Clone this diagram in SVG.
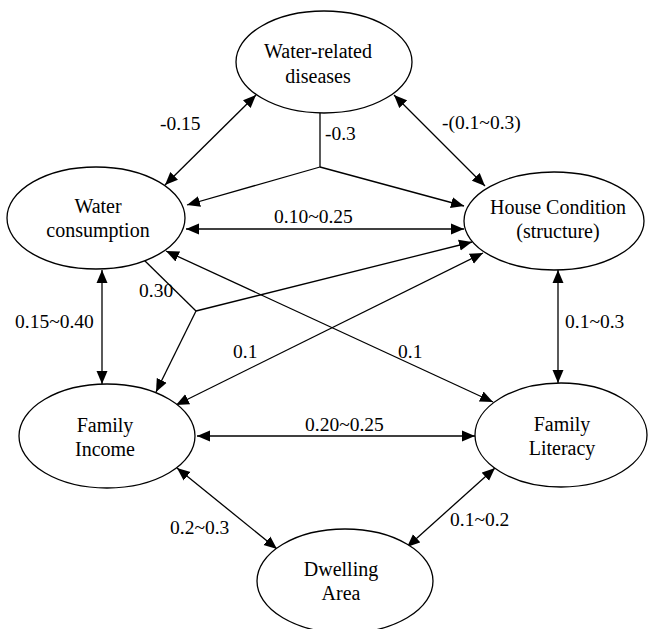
<svg xmlns="http://www.w3.org/2000/svg" width="650" height="629" viewBox="0 0 650 629">
<style>
.node ellipse{fill:#fff;stroke:#000;stroke-width:1.3}
text{font-family:'Liberation Serif','Times New Roman',serif;fill:#000}
.node text{font-size:20px;text-anchor:middle}
.lbl{font-size:19.5px}
#connectors line{stroke:#000;stroke-width:1.3;fill:none}
.bi{marker-start:url(#ah);marker-end:url(#ah)}
.uni{marker-end:url(#ah)}
</style>
<defs>
<marker id="ah" markerUnits="userSpaceOnUse" markerWidth="14" markerHeight="12" refX="13" refY="5.5" orient="auto-start-reverse" viewBox="0 0 14 11">
<path d="M0,0 L13,5.5 L0,11 z" fill="#000"/>
</marker>
</defs>
<rect width="650" height="629" fill="#fff"/>
<g id="connectors">
<line class="bi" x1="256" y1="95" x2="165" y2="185"/>
<line class="bi" x1="394" y1="95" x2="485" y2="186"/>
<line x1="320" y1="113" x2="320" y2="167"/>
<line class="uni" x1="320" y1="167" x2="187" y2="205"/>
<line class="uni" x1="320" y1="167" x2="464" y2="206"/>
<line class="bi" x1="186" y1="229" x2="464" y2="229"/>
<line x1="143" y1="259" x2="196" y2="311"/>
<line class="uni" x1="196" y1="311" x2="472" y2="242"/>
<line class="uni" x1="196" y1="311" x2="156" y2="392"/>
<line class="bi" x1="166" y1="251" x2="493" y2="402"/>
<line class="bi" x1="176" y1="405" x2="483" y2="253"/>
<line class="bi" x1="102" y1="270" x2="102" y2="384"/>
<line class="bi" x1="558" y1="270" x2="558" y2="383"/>
<line class="bi" x1="197" y1="436" x2="475" y2="436"/>
<line class="bi" x1="177" y1="468" x2="277" y2="549"/>
<line class="bi" x1="495" y1="468" x2="407" y2="547"/>
</g>
<g id="labels">
<text class="lbl" x="160" y="130">-0.15</text>
<text class="lbl" x="325" y="140">-0.3</text>
<text class="lbl" x="442" y="129">-(0.1~0.3)</text>
<text class="lbl" x="274" y="223">0.10~0.25</text>
<text class="lbl" x="139" y="297">0.30</text>
<text class="lbl" x="15" y="328">0.15~0.40</text>
<text class="lbl" x="233" y="358">0.1</text>
<text class="lbl" x="398" y="358">0.1</text>
<text class="lbl" x="565" y="328">0.1~0.3</text>
<text class="lbl" x="305" y="431">0.20~0.25</text>
<text class="lbl" x="170" y="534">0.2~0.3</text>
<text class="lbl" x="450" y="526">0.1~0.2</text>
</g>
<g id="n-diseases" class="node">
<ellipse cx="324" cy="62" rx="88" ry="51"/>
<text x="318" y="58">Water-related</text>
<text x="318" y="83">diseases</text>
</g>
<g id="n-water" class="node">
<ellipse cx="96" cy="218" rx="89" ry="51"/>
<text x="98" y="213">Water</text>
<text x="98" y="237">consumption</text>
</g>
<g id="n-house" class="node">
<ellipse cx="554" cy="221" rx="90" ry="49"/>
<text x="558" y="214">House Condition</text>
<text x="558" y="238">(structure)</text>
</g>
<g id="n-income" class="node">
<ellipse cx="107" cy="436" rx="88" ry="52"/>
<text x="105" y="432">Family</text>
<text x="105" y="456">Income</text>
</g>
<g id="n-literacy" class="node">
<ellipse cx="561" cy="435" rx="86" ry="52"/>
<text x="562" y="431">Family</text>
<text x="562" y="455">Literacy</text>
</g>
<g id="n-dwelling" class="node">
<ellipse cx="345" cy="581" rx="88" ry="52"/>
<text x="341" y="576">Dwelling</text>
<text x="341" y="600">Area</text>
</g>
</svg>
